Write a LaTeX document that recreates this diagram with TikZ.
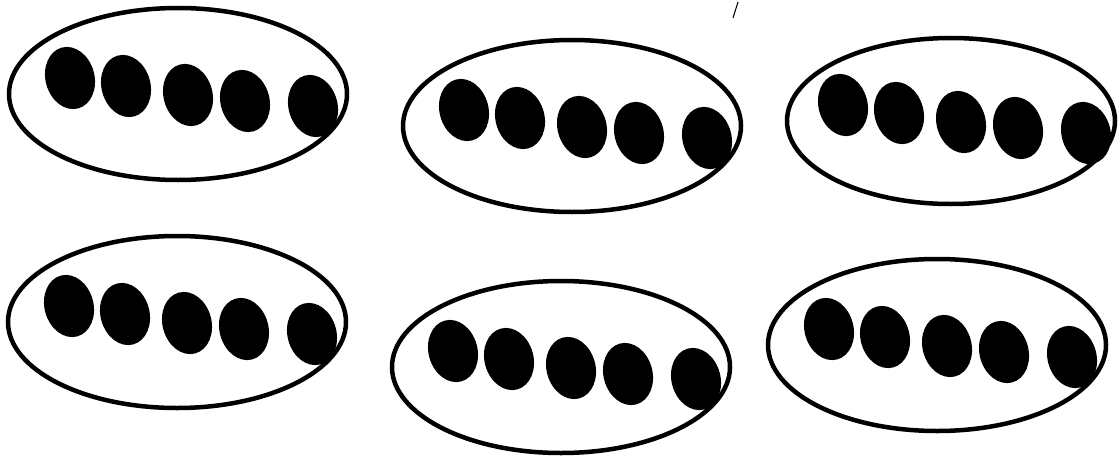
\documentclass[tikz,border=0pt]{standalone}
\usepackage{tikz}
\usetikzlibrary{shapes.geometric}
\tikzstyle{group} = [ellipse, draw=black, line width=0.09cm, minimum width=6.76cm, minimum height=3.44cm, inner sep=0]
\tikzstyle{seed} = [ellipse, fill=black, minimum width=0.98cm, minimum height=1.26cm, inner sep=0, rotate=15]

\begin{document}
\begin{tikzpicture}
    \useasboundingbox (0,0) rectangle (22.38,-9.24);

    % Top row of groups
    \node (g1) at (3.56,-1.88) [group] {};
    \node (s11) at (1.40,-1.56) [seed] {};
    \node (s12) at (2.52,-1.72) [seed] {};
    \node (s13) at (3.76,-1.90) [seed] {};
    \node (s14) at (4.90,-2.02) [seed] {};
    \node (s15) at (6.26,-2.12) [seed] {};

    \node (g2) at (11.44,-2.52) [group] {};
    \node (s21) at (9.28,-2.20) [seed] {};
    \node (s22) at (10.40,-2.36) [seed] {};
    \node (s23) at (11.64,-2.54) [seed] {};
    \node (s24) at (12.78,-2.66) [seed] {};
    \node (s25) at (14.14,-2.76) [seed] {};

    \node (g3) at (19.02,-2.42) [group, minimum width=6.56cm, minimum height=3.32cm] {};
    \node (s31) at (16.86,-2.10) [seed] {};
    \node (s32) at (17.98,-2.26) [seed] {};
    \node (s33) at (19.22,-2.44) [seed] {};
    \node (s34) at (20.36,-2.56) [seed] {};
    \node (s35) at (21.72,-2.66) [seed] {};

    % Bottom row of groups
    \node (g4) at (3.54,-6.44) [group] {};
    \node (s41) at (1.38,-6.12) [seed] {};
    \node (s42) at (2.50,-6.28) [seed] {};
    \node (s43) at (3.74,-6.46) [seed] {};
    \node (s44) at (4.88,-6.58) [seed] {};
    \node (s45) at (6.24,-6.68) [seed] {};

    \node (g5) at (11.22,-7.34) [group] {};
    \node (s51) at (9.06,-7.02) [seed] {};
    \node (s52) at (10.18,-7.18) [seed] {};
    \node (s53) at (11.42,-7.36) [seed] {};
    \node (s54) at (12.56,-7.48) [seed] {};
    \node (s55) at (13.92,-7.58) [seed] {};

    \node (g6) at (18.74,-6.90) [group] {};
    \node (s61) at (16.58,-6.58) [seed] {};
    \node (s62) at (17.70,-6.74) [seed] {};
    \node (s63) at (18.94,-6.92) [seed] {};
    \node (s64) at (20.08,-7.04) [seed] {};
    \node (s65) at (21.44,-7.14) [seed] {};

    % small stroke at the top
    \draw[line width=0.6pt] (14.76,-0.04) -- (14.66,-0.36);

\end{tikzpicture}
\end{document}
